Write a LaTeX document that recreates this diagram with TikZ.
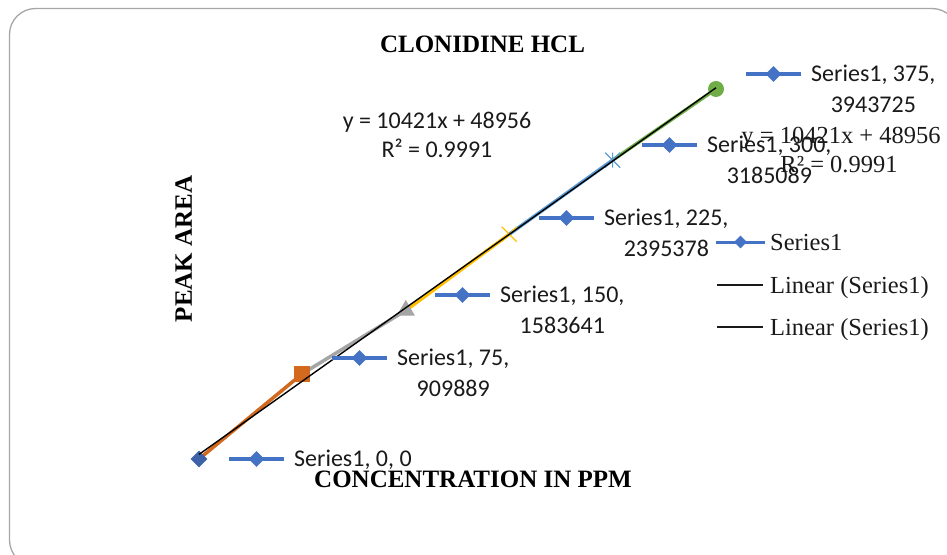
\documentclass[tikz,border=0pt]{standalone}
\usepackage{fontspec}
\setmainfont{Liberation Serif}
\newfontfamily\calibri{Carlito}
\usepackage{tikz}
\usetikzlibrary{calc,shapes.geometric}
\definecolor{frame}{HTML}{A6A6A6}
\definecolor{ser}{HTML}{4472C4}
\definecolor{serdark}{HTML}{3E62A8}
\definecolor{orng}{HTML}{D2691E}
\definecolor{grey}{HTML}{A5A5A5}
\definecolor{gold}{HTML}{FFC000}
\definecolor{sky}{HTML}{5B9BD5}
\definecolor{leaf}{HTML}{70AD47}
\definecolor{ink}{HTML}{1A1A1A}
\tikzset{
  seg/.style={line width=3.5pt, line cap=round, line join=round},
  trend/.style={draw=black, line width=1.4pt},
  keyline/.style={draw=ser, line width=3.5pt},
  keydot/.style={diamond, fill=ser, inner sep=0pt, minimum size=16pt},
  lab/.style={text=ink, font=\calibri\fontsize{24}{31}\selectfont, inner sep=0pt},
  ttl/.style={text=black, font=\fontsize{25}{30}\selectfont\bfseries, inner sep=0pt},
  leg/.style={text=ink, font=\fontsize{24.5}{30}\selectfont, inner sep=0pt},
}

\begin{document}
\begin{tikzpicture}[x=1pt,y=-1pt]
  \useasboundingbox (0,0) rectangle (947,554);
  % chart area border, running off the right and bottom
  \begin{scope}
    \clip (0,0) rectangle (947,554);
    \draw[frame, line width=1.3pt, rounded corners=26pt] (9.5,8.5) rectangle (958,566);
  \end{scope}

  % data points (x in ppm, y in thousands)
  \foreach \i/\c/\v in {0/0/0, 1/75/909.889, 2/150/1583.641, 3/225/2395.378, 4/300/3185.089, 5/375/3943.725}
    \coordinate (P\i) at ({199+1.3787*\c},{459-0.09382*\v});
  \coordinate (T0) at (199,{459-0.09382*48.956});
  \coordinate (T1) at ({199+1.3787*375},{459-0.09382*(10.421*375+48.956)});

  \foreach \a/\b/\col in {0/1/orng, 1/2/grey, 2/3/gold, 3/4/sky, 4/5/leaf}
    \draw[seg, draw=\col] (P\a) -- (P\b);

  % markers
  \node[diamond, fill=serdark, inner sep=0pt, minimum size=17pt] (m0) at (P0) {};
  \node[rectangle, fill=orng, inner sep=0pt, minimum size=16pt] (m1) at (P1) {};
  \node[regular polygon, regular polygon sides=3, fill=grey, inner sep=0pt, minimum size=21pt] (m2) at (P2) {};
  \draw[gold, line width=1.2pt] ($(P3)+(-7.5,-7.5)$) -- ($(P3)+(7.5,7.5)$) ($(P3)+(-7.5,7.5)$) -- ($(P3)+(7.5,-7.5)$);
  \draw[sky, line width=1.2pt] ($(P4)+(-7.5,-7.5)$) -- ($(P4)+(7.5,7.5)$) ($(P4)+(-7.5,7.5)$) -- ($(P4)+(7.5,-7.5)$)
    ($(P4)+(0,-7.5)$) -- ($(P4)+(0,7.5)$);
  \node[circle, fill=leaf, inner sep=0pt, minimum size=16pt] (m5) at (P5) {};

  \draw[trend] (T0) -- (T1);

  % data labels with their keys
  \foreach \i/\kx/\ky/\txt in {0/229/459/{Series1, 0, 0}, 1/332/358/{Series1, 75,}, 2/435/295/{Series1, 150,},
                               3/539/218/{Series1, 225,}, 4/642/145/{Series1, 300,}, 5/746/74/{Series1, 375,}} {
    \coordinate (ka\i) at (\kx,\ky);
    \coordinate (kb\i) at ($(ka\i)+(55,0)$);
    \draw[keyline] (ka\i) -- (kb\i);
    \node[keydot] (kd\i) at ($(ka\i)!0.5!(kb\i)$) {};
    \node[lab, anchor=base west] (la\i) at ($(kb\i)+(10,7)$) {\txt};
  }
  \foreach \i/\num in {1/909889, 2/1583641, 3/2395378, 4/3185089, 5/3943725}
    \node[lab, anchor=base] (lb\i) at ($(la\i.base)+(0,31)$) {\num};

  % trendline equations
  \node[lab, anchor=base] (eqa) at (437,128) {y = 10421x + 48956};
  \node[lab, anchor=base] (eqb) at (437,157) {R² = 0.9991};
  \node[leg, anchor=base] (eqc) at (841,143) {y = 10421x + 48956};
  \node[leg, anchor=base] (eqd) at (839,172) {R² = 0.9991};

  % titles
  \node[ttl, anchor=base] (title) at (482.5,52) {CLONIDINE HCL};
  \node[ttl, anchor=base] (xtitle) at (473,487) {CONCENTRATION IN PPM};
  \node[ttl, rotate=90] (ytitle) at (183.5,249) {PEAK AREA};

  % legend
  \coordinate (ga) at (716,242);
  \coordinate (gb) at (765,242);
  \draw[keyline, line width=3pt] (ga) -- (gb);
  \node[keydot, minimum size=13pt] (gd) at ($(ga)!0.5!(gb)$) {};
  \node[leg, anchor=base west] (g1) at (770,250) {Series1};
  \foreach \j/\yy in {2/285, 3/327} {
    \coordinate (ga\j) at (717,\yy);
    \coordinate (gb\j) at (763,\yy);
    \draw[draw=ink, line width=1.3pt] (ga\j) -- (gb\j);
    \node[leg, anchor=base west] (g\j) at (770,\yy+8) {Linear (Series1)};
  }
\end{tikzpicture}
\end{document}
